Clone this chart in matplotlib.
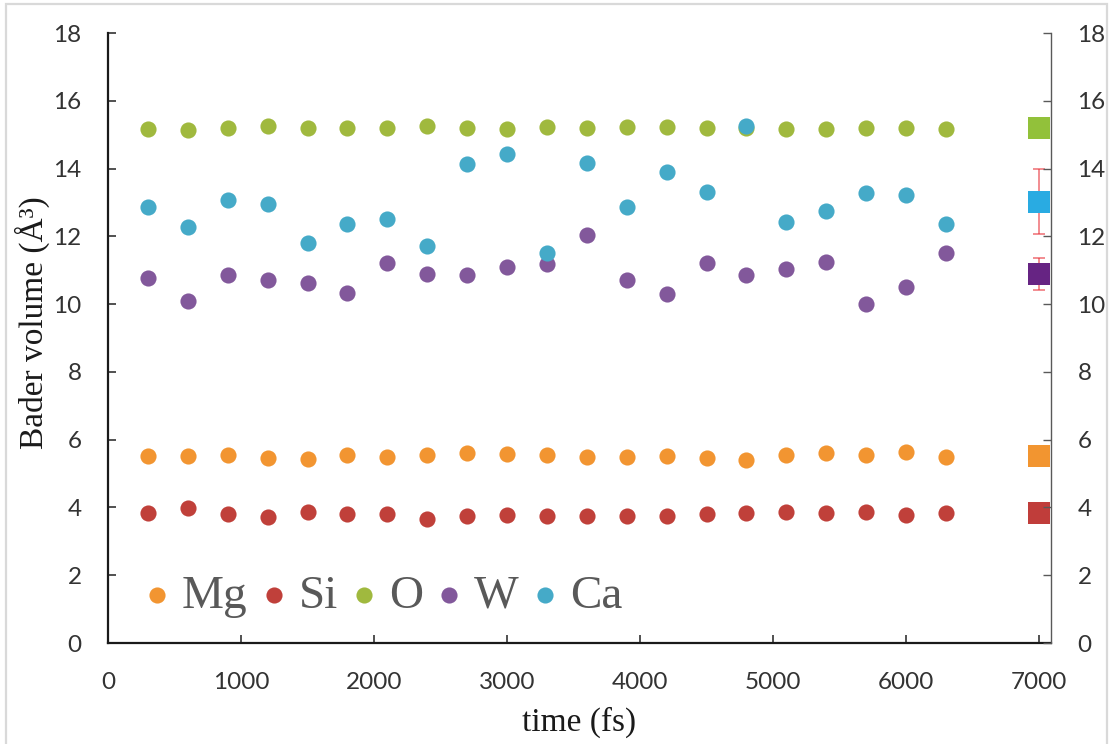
import matplotlib
matplotlib.use("Agg")
import matplotlib.pyplot as plt
from matplotlib.patches import Rectangle

time = [300, 600, 900, 1200, 1500, 1800, 2100, 2400, 2700, 3000, 3300,
        3600, 3900, 4200, 4500, 4800, 5100, 5400, 5700, 6000, 6300]
mg = [5.52, 5.52, 5.54, 5.46, 5.43, 5.54, 5.48, 5.54, 5.60, 5.57, 5.56,
      5.48, 5.48, 5.52, 5.46, 5.40, 5.55, 5.60, 5.54, 5.64, 5.49]
si = [3.85, 3.98, 3.80, 3.71, 3.87, 3.81, 3.80, 3.66, 3.74, 3.78, 3.76,
      3.76, 3.76, 3.76, 3.81, 3.84, 3.87, 3.85, 3.87, 3.79, 3.84]
o = [15.18, 15.15, 15.21, 15.26, 15.21, 15.21, 15.21, 15.26, 15.21, 15.17, 15.24,
     15.21, 15.23, 15.23, 15.21, 15.20, 15.18, 15.18, 15.21, 15.21, 15.18]
w = [10.78, 10.08, 10.87, 10.70, 10.61, 10.33, 11.21, 10.89, 10.87, 11.09, 11.18,
     12.03, 10.70, 10.30, 11.20, 10.87, 11.03, 11.24, 9.99, 10.50, 11.51]
ca = [12.87, 12.28, 13.07, 12.95, 11.79, 12.36, 12.51, 11.72, 14.14, 14.44, 11.50,
      14.17, 12.87, 13.91, 13.32, 15.26, 12.41, 12.75, 13.27, 13.21, 12.36]

avg_time = 7000
avg_values = [5.53, 3.83, 15.21, 10.88, 13.02]
avg_err = [0.0, 0.0, 0.0, 0.47, 0.96]

names = ["Mg", "Si", "O", "W", "Ca"]
series = [mg, si, o, w, ca]
dot_colors = ["#F29531", "#C0403A", "#A0B93E", "#82589B", "#45AAC8"]
sq_colors = ["#F29530", "#C03D3A", "#92C13A", "#662483", "#29ABE2"]
x_ticks = [0, 1000, 2000, 3000, 4000, 5000, 6000, 7000]
y_ticks = [0, 2, 4, 6, 8, 10, 12, 14, 16, 18]

W_PX, H_PX = 1112, 744
fig = plt.figure(figsize=(W_PX / 100, H_PX / 100), dpi=100)
left, right, top, bottom = 108, 1051, 33, 643
ax = fig.add_axes([left / W_PX, 1 - bottom / H_PX, (right - left) / W_PX, (bottom - top) / H_PX])

fig.patches.append(Rectangle((6 / W_PX, -0.01), 1101 / W_PX, 1 - 4 / H_PX + 0.01,
                             transform=fig.transFigure, fill=False,
                             edgecolor="#D9D9D9", linewidth=1.6))

for name, vals, c in zip(names, series, dot_colors):
    ax.scatter(time, vals, s=135, color=c, label=name, zorder=3, linewidths=0)

for v, e, c in zip(avg_values, avg_err, sq_colors):
    if e > 0:
        ax.errorbar([avg_time], [v], yerr=[e], fmt="none", ecolor="#E8323A",
                    elinewidth=1.3, capsize=4, capthick=1.3, alpha=0.6, zorder=2)
    ax.scatter([avg_time], [v], s=250, marker="s", color=c, zorder=4, linewidths=0)

ax.set_xlim(0, 7090)
ax.set_ylim(0, 18)
ax.set_xticks(x_ticks)
ax.set_yticks(y_ticks)
ax.spines["top"].set_visible(False)
ax.spines["right"].set_visible(False)
for s in ["left", "bottom"]:
    ax.spines[s].set_color("#1a1a1a")
    ax.spines[s].set_linewidth(1.6)
ax.tick_params(axis="both", direction="in", length=6, width=1.2, color="#333333",
               labelsize=17.5, labelcolor="#333333")
ax.tick_params(axis="y", pad=19)
ax.tick_params(axis="x", pad=21)
for lab in ax.get_xticklabels() + ax.get_yticklabels():
    lab.set_fontfamily("Lato")

ax2 = ax.twinx()
ax2.set_ylim(0, 18)
ax2.set_yticks(y_ticks)
ax2.spines["top"].set_visible(False)
ax2.spines["left"].set_visible(False)
ax2.spines["bottom"].set_visible(False)
ax2.spines["right"].set_color("#595959")
ax2.spines["right"].set_linewidth(1.0)
ax2.tick_params(direction="in", length=6, width=1.0, color="#595959",
                labelsize=17.5, labelcolor="#333333", pad=19)
for lab in ax2.get_yticklabels():
    lab.set_fontfamily("Lato")

ax.set_xlabel("time (fs)", fontsize=24, family="Liberation Serif", color="#1a1a1a")
ax.xaxis.set_label_coords(0.5, -0.104)
ax.set_ylabel("Bader volume (Å³)", fontsize=24, family="Liberation Serif", color="#1a1a1a")
ax.yaxis.set_label_coords(-0.062, 0.525)

leg = ax.legend(loc="center left", bbox_to_anchor=(0.037, 0.077), ncol=5, frameon=False,
                prop={"family": "Liberation Serif", "size": 34}, handletextpad=0.23,
                columnspacing=0.25, markerscale=1.0, handlelength=0.6,
                borderaxespad=0, borderpad=0)
for t in leg.get_texts():
    t.set_color("#595959")

fig.savefig("out.png", dpi=100)
